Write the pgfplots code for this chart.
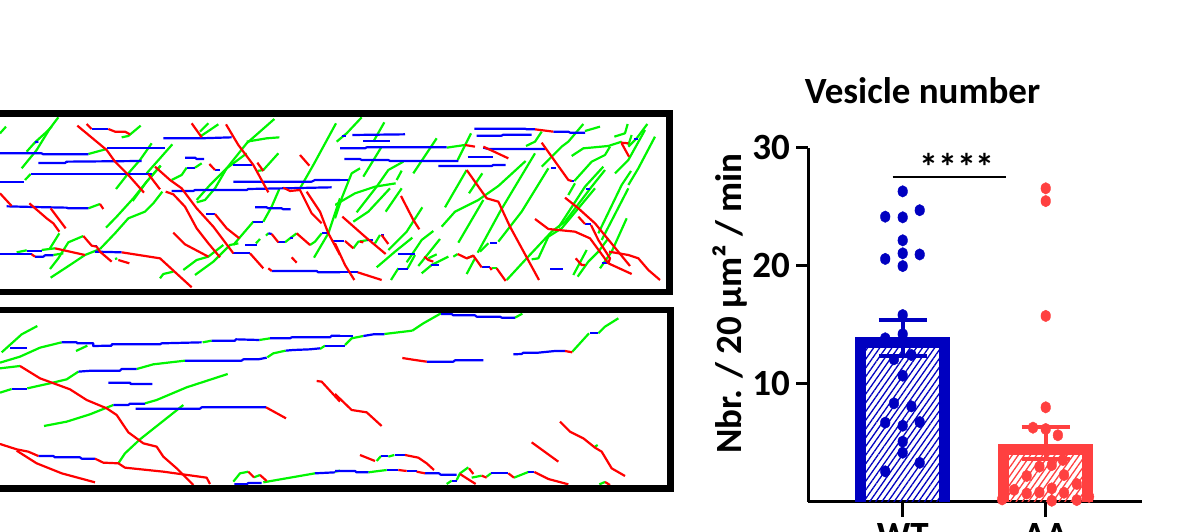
\documentclass[border=0pt]{standalone}
\usepackage{fontspec}
\setmainfont{Carlito}
\usepackage{pgfplots}
\pgfplotsset{compat=1.18}
\usetikzlibrary{patterns.meta}
\definecolor{tg}{RGB}{0,245,0}
\definecolor{tr}{RGB}{255,0,0}
\definecolor{tb}{RGB}{0,0,255}
\definecolor{wt}{RGB}{0,0,192}
\definecolor{aa}{RGB}{255,64,64}
\pgfplotsset{
 G/.style={tg,line width=2.2pt,mark=none,line join=round},
 R/.style={tr,line width=2.2pt,mark=none,line join=round},
 B/.style={tb,line width=2.2pt,mark=none,line join=round},
 crop/.style={scale only axis,width=340pt,height=195pt,anchor=north west,hide axis,
  xmin=0,xmax=1020,ymin=0,ymax=585,y dir=reverse},
}
\newcommand{\bigfont}{\fontsize{37}{40}\selectfont\bfseries}
\begin{document}
\begin{tikzpicture}[x=1pt,y=1pt]
\path[use as bounding box,clip] (0,0) rectangle (1192,532);
% upper panel, left
\begin{axis}[crop,at={(0pt,427pt)}]
\addplot[G] coordinates {(0,85)(18,65)};
\addplot[G] coordinates {(65,190)(110,135)(150,70)(175,37)};
\addplot[G] coordinates {(80,140)(105,112)(135,85)(155,65)};
\addplot[G] coordinates {(265,147)(320,132)};
\addplot[G] coordinates {(348,252)(385,205)(420,165)(455,115)};
\addplot[G] coordinates {(365,97)(385,93)(422,62)};
\addplot[G] coordinates {(440,205)(480,160)(517,118)};
\addplot[G] coordinates {(398,288)(440,230)(482,182)};
\addplot[G] coordinates {(318,368)(350,335)(400,280)(440,230)(482,182)};
\addplot[G] coordinates {(300,432)(345,385)(385,340)(435,320)(460,295)(487,260)};
\addplot[G] coordinates {(150,492)(175,460)(205,412)(250,393)};
\addplot[G] coordinates {(150,430)(178,385)};
\addplot[G] coordinates {(152,518)(210,480)(255,450)(300,432)};
\addplot[G] coordinates {(50,442)(80,436)};
\addplot[G] coordinates {(125,435)(165,430)};
\addplot[G] coordinates {(160,450)(190,445)};
\addplot[G] coordinates {(75,225)(92,207)};
\addplot[G] coordinates {(265,310)(300,297)};
\addplot[G] coordinates {(515,225)(545,210)(560,188)};
\addplot[G] coordinates {(585,188)(605,175)};
\addplot[G] coordinates {(600,95)(655,58)};
\addplot[G] coordinates {(600,80)(625,55)};
\addplot[G] coordinates {(590,285)(630,240)(680,190)(740,115)(823,42)};
\addplot[G] coordinates {(590,292)(615,285)(645,250)(680,190)(740,145)};
\addplot[G] coordinates {(740,110)(800,100)(838,97)};
\addplot[G] coordinates {(772,198)(790,195)(835,145)};
\addplot[G] coordinates {(900,250)(940,180)(1008,55)};
\addplot[G] coordinates {(700,420)(730,385)(760,350)};
\addplot[G] coordinates {(790,350)(815,305)(838,252)};
\addplot[G] coordinates {(480,520)(490,507)(520,500)};
\addplot[G] coordinates {(550,495)(590,465)(625,455)(670,420)};
\addplot[G] coordinates {(585,510)(640,470)(690,420)(715,415)};
\addplot[G] coordinates {(768,415)(780,402)};
\addplot[G] coordinates {(798,392)(805,385)};
\addplot[G] coordinates {(855,412)(870,400)(890,385)};
\addplot[G] coordinates {(930,420)(945,410)(965,385)};
\addplot[G] coordinates {(942,458)(985,385)(1020,280)};
\addplot[G] coordinates {(345,462)(352,460)};
\addplot[B] coordinates {(0,145)(125,145)(130,148)(265,148)};
\addplot[B] coordinates {(322,130)(495,130)};
\addplot[B] coordinates {(115,174)(195,174)(200,170)(425,168)};
\addplot[B] coordinates {(92,207)(455,207)};
\addplot[B] coordinates {(0,230)(72,230)};
\addplot[B] coordinates {(490,100)(600,100)(695,97)};
\addplot[B] coordinates {(105,112)(115,110)};
\addplot[B] coordinates {(555,158)(585,158)(590,162)(612,162)};
\addplot[B] coordinates {(560,188)(585,188)};
\addplot[B] coordinates {(645,195)(660,195)};
\addplot[B] coordinates {(700,180)(755,180)};
\addplot[B] coordinates {(700,230)(935,230)(945,225)(1020,225)};
\addplot[B] coordinates {(515,258)(580,258)(585,255)(740,255)(745,252)(850,250)(995,247)};
\addplot[B] coordinates {(20,304)(100,306)(200,308)(205,310)(265,310)};
\addplot[B] coordinates {(765,307)(800,307)(805,310)(845,310)(850,313)(872,313)};
\addplot[B] coordinates {(618,327)(645,327)};
\addplot[B] coordinates {(760,352)(790,352)};
\addplot[B] coordinates {(0,448)(95,448)};
\addplot[B] coordinates {(105,455)(130,455)(135,451)(160,451)};
\addplot[B] coordinates {(80,437)(125,437)};
\addplot[B] coordinates {(275,422)(290,422)};
\addplot[B] coordinates {(285,440)(365,442)};
\addplot[B] coordinates {(735,420)(772,420)};
\addplot[B] coordinates {(700,445)(750,445)};
\addplot[B] coordinates {(815,498)(950,498)(955,502)(1020,502)};
\addplot[B] coordinates {(805,385)(815,387)};
\addplot[B] coordinates {(835,412)(855,412)};
\addplot[B] coordinates {(870,398)(880,398)};
\addplot[B] coordinates {(965,385)(985,385)};
\addplot[B] coordinates {(1000,408)(1020,408)};
\addplot[R] coordinates {(232,62)(320,135)(345,170)(385,210)(432,263)};
\addplot[R] coordinates {(260,57)(275,72)};
\addplot[R] coordinates {(325,72)(345,80)(375,80)(390,88)};
\addplot[B] coordinates {(275,72)(325,72)};
\addplot[R] coordinates {(0,265)(35,303)};
\addplot[R] coordinates {(88,295)(140,340)(160,355)(178,380)};
\addplot[R] coordinates {(152,310)(197,370)};
\addplot[R] coordinates {(250,393)(275,422)(290,425)(300,440)(335,470)};
\addplot[R] coordinates {(355,465)(388,475)};
\addplot[R] coordinates {(165,430)(255,450)};
\addplot[R] coordinates {(95,448)(105,455)};
\addplot[R] coordinates {(365,442)(480,460)(575,547)};
\addplot[R] coordinates {(465,185)(510,225)(545,250)(590,310)(640,365)(700,445)};
\addplot[R] coordinates {(497,260)(520,268)(555,305)(590,370)(625,415)(660,457)};
\addplot[R] coordinates {(445,207)(480,253)};
\addplot[R] coordinates {(575,55)(605,97)};
\addplot[R] coordinates {(678,58)(715,120)(760,180)(805,262)};
\addplot[R] coordinates {(628,177)(645,195)};
\addplot[R] coordinates {(645,327)(680,370)(718,400)};
\addplot[R] coordinates {(520,383)(555,418)(625,455)};
\addplot[R] coordinates {(750,445)(790,490)};
\addplot[R] coordinates {(805,490)(815,498)};
\addplot[R] coordinates {(772,173)(790,198)};
\addplot[R] coordinates {(900,150)(928,182)};
\addplot[R] coordinates {(815,387)(835,412)};
\addplot[R] coordinates {(890,385)(930,420)};
\addplot[R] coordinates {(875,457)(890,473)};
\addplot[R] coordinates {(850,248)(870,258)(900,255)(935,325)(965,355)};
\addplot[R] coordinates {(920,260)(960,320)(985,385)(1020,450)};
\addplot[R] coordinates {(300,297)(310,312)};
\end{axis}
% upper panel, right
\begin{axis}[crop,at={(335pt,427pt)}]
\addplot[G] coordinates {(5,110)(35,85)(80,37)};
\addplot[G] coordinates {(115,110)(148,52)};
\addplot[G] coordinates {(85,215)(140,125)};
\addplot[G] coordinates {(0,340)(20,280)(50,205)(75,190)};
\addplot[G] coordinates {(55,350)(100,320)(165,250)};
\addplot[G] coordinates {(65,322)(125,245)(160,195)(205,170)};
\addplot[G] coordinates {(0,300)(60,265)(120,245)(182,235)};
\addplot[G] coordinates {(185,225)(200,197)};
\addplot[G] coordinates {(152,320)(200,250)};
\addplot[G] coordinates {(235,205)(305,100)};
\addplot[G] coordinates {(335,128)(390,120)};
\addplot[G] coordinates {(368,165)(408,85)};
\addplot[G] coordinates {(330,307)(395,195)};
\addplot[G] coordinates {(402,265)(442,205)};
\addplot[G] coordinates {(370,413)(445,285)};
\addplot[G] coordinates {(320,365)(360,320)(430,285)(490,243)(572,168)};
\addplot[G] coordinates {(428,443)(495,320)(600,145)};
\addplot[G] coordinates {(435,440)(460,415)};
\addplot[G] coordinates {(490,410)(560,320)(640,190)};
\addplot[G] coordinates {(515,525)(575,460)(650,380)(690,350)};
\addplot[G] coordinates {(590,463)(610,460)(640,395)(680,370)(780,250)};
\addplot[G] coordinates {(620,185)(680,125)(700,110)(745,57)};
\addplot[G] coordinates {(573,123)(600,110)(620,80)};
\addplot[G] coordinates {(710,153)(745,130)(820,123)(860,110)};
\addplot[G] coordinates {(750,78)(795,65)};
\addplot[G] coordinates {(700,270)(720,235)};
\addplot[G] coordinates {(718,228)(770,170)(810,150)(825,125)};
\addplot[G] coordinates {(838,95)(870,85)(878,57)};
\addplot[G] coordinates {(880,125)(905,100)(937,57)};
\addplot[G] coordinates {(880,120)(890,90)};
\addplot[G] coordinates {(840,205)(880,165)(930,75)};
\addplot[G] coordinates {(880,240)(910,190)(960,95)};
\addplot[G] coordinates {(790,385)(860,240)(888,198)};
\addplot[G] coordinates {(800,405)(880,250)};
\addplot[G] coordinates {(670,368)(750,245)(805,185)};
\addplot[G] coordinates {(690,350)(770,245)(810,195)};
\addplot[G] coordinates {(795,490)(830,440)(875,340)};
\addplot[G] coordinates {(715,510)(755,435)};
\addplot[G] coordinates {(728,515)(760,470)(790,440)(820,400)};
\addplot[G] coordinates {(125,487)(180,440)(232,398)};
\addplot[G] coordinates {(160,435)(215,380)(262,307)};
\addplot[G] coordinates {(215,472)(240,435)(260,405)(295,378)};
\addplot[G] coordinates {(250,483)(315,402)};
\addplot[G] coordinates {(260,505)(290,480)(340,455)};
\addplot[G] coordinates {(280,460)(305,448)};
\addplot[G] coordinates {(168,525)(190,490)};
\addplot[G] coordinates {(218,490)(240,450)};
\addplot[G] coordinates {(55,430)(70,410)(100,405)};
\addplot[G] coordinates {(120,415)(135,390)};
\addplot[G] coordinates {(355,455)(368,447)};
\addplot[G] coordinates {(395,460)(415,452)};
\addplot[G] coordinates {(395,507)(420,460)};
\addplot[G] coordinates {(470,490)(485,490)};
\addplot[B] coordinates {(0,225)(40,225)};
\addplot[B] coordinates {(20,92)(32,92)};
\addplot[B] coordinates {(52,90)(210,88)};
\addplot[B] coordinates {(85,108)(165,108)};
\addplot[B] coordinates {(15,130)(90,130)(95,127)(335,127)};
\addplot[B] coordinates {(28,162)(75,162)(80,165)(160,165)(165,168)(370,168)};
\addplot[B] coordinates {(310,183)(470,183)(475,180)(512,180)};
\addplot[B] coordinates {(418,71)(570,71)(575,73)(600,73)};
\addplot[B] coordinates {(425,92)(500,92)(505,89)(590,89)};
\addplot[B] coordinates {(655,80)(700,80)(705,83)(750,83)};
\addplot[B] coordinates {(445,128)(460,132)(630,132)};
\addplot[B] coordinates {(398,157)(475,157)};
\addplot[B] coordinates {(648,188)(662,188)};
\addplot[B] coordinates {(705,228)(718,228)};
\addplot[B] coordinates {(752,252)(765,252)};
\addplot[B] coordinates {(750,357)(768,357)};
\addplot[B] coordinates {(898,103)(910,103)};
\addplot[B] coordinates {(0,408)(28,408)};
\addplot[B] coordinates {(95,405)(115,405)};
\addplot[B] coordinates {(138,390)(148,390)};
\addplot[B] coordinates {(465,415)(485,415)};
\addplot[B] coordinates {(188,448)(240,448)};
\addplot[B] coordinates {(190,492)(218,492)};
\addplot[B] coordinates {(288,480)(312,480)};
\addplot[B] coordinates {(440,487)(465,487)};
\addplot[B] coordinates {(645,492)(683,492)};
\addplot[B] coordinates {(0,500)(68,500)};
\addplot[B] coordinates {(800,475)(818,475)};
\addplot[R] coordinates {(0,415)(30,480)(58,525)};
\addplot[R] coordinates {(68,502)(140,525)};
\addplot[R] coordinates {(22,335)(90,395)(152,447)};
\addplot[R] coordinates {(30,408)(55,430)};
\addplot[R] coordinates {(75,410)(85,412)};
\addplot[R] coordinates {(140,390)(160,417)};
\addplot[R] coordinates {(198,273)(235,345)(253,373)};
\addplot[R] coordinates {(268,455)(280,465)(295,470)};
\addplot[R] coordinates {(368,447)(395,460)(415,452)(440,487)};
\addplot[R] coordinates {(465,487)(470,495)};
\addplot[R] coordinates {(485,490)(512,528)};
\addplot[R] coordinates {(390,120)(420,125)};
\addplot[R] coordinates {(445,125)(520,160)};
\addplot[R] coordinates {(600,73)(655,80)};
\addplot[R] coordinates {(395,195)(455,280)(490,290)(525,365)(612,525)};
\addplot[R] coordinates {(620,113)(650,155)(700,225)(710,228)};
\addplot[R] coordinates {(690,278)(730,310)(780,355)(885,483)};
\addplot[R] coordinates {(600,342)(640,372)(720,380)(765,400)(820,475)};
\addplot[R] coordinates {(730,335)(750,357)};
\addplot[R] coordinates {(768,360)(790,405)(825,460)(820,475)};
\addplot[R] coordinates {(820,475)(890,507)};
\addplot[R] coordinates {(822,440)(880,450)(910,460)(940,495)(975,525)};
\addplot[R] coordinates {(722,460)(740,480)(750,480)};
\addplot[R] coordinates {(858,113)(880,115)};
\addplot[R] coordinates {(860,115)(882,155)};
\end{axis}
% lower panel, left
\begin{axis}[crop,at={(0pt,232pt)}]
\addplot[G] coordinates {(5,157)(65,103)(112,78)};
\addplot[G] coordinates {(228,153)(262,137)};
\addplot[G] coordinates {(0,188)(60,170)(120,143)(185,127)};
\addplot[G] coordinates {(0,205)(60,198)};
\addplot[G] coordinates {(0,278)(35,267)};
\addplot[G] coordinates {(82,265)(150,250)(200,238)(235,215)};
\addplot[G] coordinates {(410,207)(460,193)(555,182)};
\addplot[G] coordinates {(132,378)(200,365)(270,343)(340,315)};
\addplot[G] coordinates {(435,310)(470,300)(560,262)(683,222)};
\addplot[G] coordinates {(355,490)(375,460)(420,418)(550,315)};
\addplot[G] coordinates {(608,127)(635,122)};
\addplot[G] coordinates {(778,120)(810,115)};
\addplot[G] coordinates {(802,172)(820,160)(857,152)};
\addplot[G] coordinates {(960,147)(975,137)};
\addplot[G] coordinates {(700,545)(720,520)(745,515)};
\addplot[G] coordinates {(762,532)(780,525)};
\addplot[G] coordinates {(790,547)(945,520)};
\addplot[G] coordinates {(1005,515)(1020,512)};
\addplot[B] coordinates {(30,145)(80,145)};
\addplot[B] coordinates {(185,127)(230,127)(232,130)(280,130)(280,138)(335,137)(335,133)(480,133)(485,130)(605,127)};
\addplot[B] coordinates {(635,122)(705,122)(708,118)(778,120)};
\addplot[B] coordinates {(810,115)(870,115)(875,112)(990,112)(995,107)(1020,107)};
\addplot[B] coordinates {(235,215)(275,212)(360,212)(365,207)(410,207)};
\addplot[B] coordinates {(555,182)(725,182)(730,178)(775,178)(800,173)};
\addplot[B] coordinates {(857,152)(880,150)(930,148)(960,145)};
\addplot[B] coordinates {(975,137)(1020,137)};
\addplot[B] coordinates {(35,267)(82,267)};
\addplot[B] coordinates {(325,248)(390,248)(392,252)(457,252)};
\addplot[B] coordinates {(340,315)(385,315)(390,311)(435,311)};
\addplot[B] coordinates {(407,326)(600,326)(605,322)(798,322)};
\addplot[B] coordinates {(115,468)(160,468)(165,472)(240,472)(245,476)(285,476)};
\addplot[B] coordinates {(703,553)(740,553)(745,549)(785,549)};
\addplot[B] coordinates {(945,520)(1005,517)};
\addplot[R] coordinates {(60,198)(120,235)(210,268)(260,300)(320,325)(350,345)(385,397)(430,430)(470,440)(490,470)(530,505)(580,555)};
\addplot[R] coordinates {(0,432)(50,448)(85,455)(115,468)};
\addplot[R] coordinates {(50,452)(110,490)(185,520)(285,547)};
\addplot[R] coordinates {(285,476)(310,488)(355,490)(375,503)(490,515)(620,533)(630,552)};
\addplot[R] coordinates {(798,322)(858,355)};
\addplot[R] coordinates {(745,515)(762,532)};
\addplot[R] coordinates {(780,525)(800,543)};
\addplot[R] coordinates {(950,243)(965,245)(1020,305)};
\end{axis}
% lower panel, right
\begin{axis}[crop,at={(335pt,232pt)}]
\addplot[G] coordinates {(232,92)(265,70)(318,40)};
\addplot[G] coordinates {(148,102)(232,92)};
\addplot[G] coordinates {(30,135)(50,115)(85,108)};
\addplot[G] coordinates {(540,53)(562,41)};
\addplot[G] coordinates {(712,155)(762,100)};
\addplot[G] coordinates {(790,100)(810,80)(850,55)};
\addplot[G] coordinates {(100,517)(155,510)};
\addplot[G] coordinates {(125,483)(138,468)};
\addplot[G] coordinates {(160,470)(178,465)};
\addplot[G] coordinates {(335,552)(350,542)};
\addplot[G] coordinates {(365,540)(375,520)(400,502)};
\addplot[G] coordinates {(410,533)(440,527)};
\addplot[G] coordinates {(455,530)(468,520)};
\addplot[G] coordinates {(537,533)(580,516)};
\addplot[G] coordinates {(793,553)(810,546)};
\addplot[G] coordinates {(780,440)(788,435)};
\addplot[B] coordinates {(0,108)(53,108)};
\addplot[B] coordinates {(0,138)(30,138)};
\addplot[B] coordinates {(85,108)(115,103)(148,103)};
\addplot[B] coordinates {(318,42)(350,42)(355,46)(420,46)(425,50)(495,50)(500,53)(540,53)};
\addplot[B] coordinates {(275,185)(355,185)(360,181)(445,181)};
\addplot[B] coordinates {(535,163)(560,162)(565,158)(610,158)(660,153)(690,153)};
\addplot[B] coordinates {(765,100)(790,100)};
\addplot[B] coordinates {(0,513)(60,513)(65,517)(100,517)};
\addplot[B] coordinates {(138,468)(160,468)};
\addplot[B] coordinates {(180,465)(210,465)};
\addplot[B] coordinates {(155,510)(190,510)};
\addplot[B] coordinates {(215,513)(245,513)};
\addplot[B] coordinates {(270,520)(312,520)(317,524)(365,524)};
\addplot[B] coordinates {(350,542)(365,542)};
\addplot[B] coordinates {(468,520)(520,520)};
\addplot[B] coordinates {(580,516)(598,516)};
\addplot[R] coordinates {(202,174)(240,180)(275,185)};
\addplot[R] coordinates {(690,153)(712,157)};
\addplot[R] coordinates {(0,282)(50,330)(95,337)(140,378)};
\addplot[R] coordinates {(75,465)(120,483)};
\addplot[R] coordinates {(210,465)(250,473)(275,490)(297,510)};
\addplot[R] coordinates {(190,510)(215,513)};
\addplot[R] coordinates {(245,515)(270,520)};
\addplot[R] coordinates {(375,522)(395,535)(422,552)};
\addplot[R] coordinates {(402,505)(415,522)};
\addplot[R] coordinates {(440,527)(455,533)};
\addplot[R] coordinates {(520,520)(537,533)};
\addplot[R] coordinates {(598,516)(640,537)(700,553)};
\addplot[R] coordinates {(810,546)(825,555)};
\addplot[R] coordinates {(675,365)(705,395)(745,415)(780,443)(800,455)(830,505)(870,528)};
\addplot[R] coordinates {(590,427)(670,485)};
\end{axis}
% panel frames, in image pixels
\begin{axis}[scale only axis,width=1192pt,height=532pt,at={(0pt,0pt)},anchor=south west,hide axis,
 xmin=0,xmax=1192,ymin=0,ymax=532,y dir=reverse]
\addplot[black,line width=6.5pt,mark=none,line join=miter] coordinates {(-10,113.5)(669.5,113.5)(669.5,292)(-10,292)};
\addplot[black,line width=6.5pt,mark=none,line join=miter] coordinates {(-10,310)(670.5,310)(670.5,488.5)(-10,488.5)};
\end{axis}
% bar chart
\begin{axis}[scale only axis,width=334pt,height=354pt,at={(808pt,30.3pt)},anchor=south west,
 xmin=-0.662,xmax=1.673,ymin=0,ymax=30,clip=false,
 axis x line=bottom,axis y line=left,
 axis line style={line width=3pt,-},
 tick style={line width=3pt,black},
 ytick={10,20,30},xtick={0,1},xticklabels={WT,AA},
 tick align=outside,
 major tick length=12pt,
 x tick style={/pgfplots/major tick length=15pt},
 /pgf/number format/assume math mode=true,
 yticklabel style={font=\bigfont,inner sep=0pt,xshift=-6pt},
 xticklabel style={font=\bigfont,inner sep=0pt,yshift=-10pt},
 ylabel={Nbr. / 20 µm² / min},
 ylabel style={font=\bigfont,at={(axis description cs:0,0.5)},xshift=21pt,yshift=60pt,inner sep=0pt,anchor=south},
 title={Vesicle number},
 title style={font=\bigfont,at={(axis description cs:0.343,1)},anchor=base,yshift=38pt,inner sep=0pt},
]
% bars
\addplot[wt,line width=11pt,mark=none,line join=miter,
  pattern={Lines[angle=55,distance=5pt,line width=1.3pt]},pattern color=wt]
  coordinates {(-0.293,0)(-0.293,13.46)(0.293,13.46)(0.293,0)};
\addplot[aa,line width=11pt,mark=none,line join=miter,
  pattern={Lines[angle=55,distance=5pt,line width=1.3pt]},pattern color=aa]
  coordinates {(0.707,0)(0.707,4.42)(1.293,4.42)(1.293,0)};
% points WT
\addplot[only marks,mark=*,mark size=4.8pt,wt,mark options={yscale=1.2,draw=wt,fill=wt}] coordinates {
(0,26.3)(0.119,24.7)(-0.122,24.15)(0,24.1)(0,22.15)(0,21.05)(0.119,20.95)(-0.122,20.57)(0,19.97)
(0,15.82)(0,14.2)(-0.122,13.85)(-0.061,12.07)(0.061,12.43)(0,10.68)(-0.061,8.34)(0.061,8.08)
(-0.122,6.7)(0.119,6.75)(0,6.44)(0,5.09)(0,4.15)(0.119,3.3)(-0.122,2.57)};
% points AA
\addplot[only marks,mark=*,mark size=4.8pt,aa,mark options={yscale=1.2,draw=aa,fill=aa}] coordinates {
(1,26.56)(1,25.48)(1,15.74)(1,8.0)(0.911,6.27)(1,6.16)(1.085,5.63)(0.956,2.97)(1.042,3.1)(1.12,3.53)
(0.867,2.18)(1.128,2.26)(1.217,1.5)(0.779,1.0)(0.867,0.7)(0.956,0.8)(1.042,1.13)(1.128,0.76)
(0.695,0.2)(1.042,0.08)(1.217,0.14)(1.303,0.42)};
% error bars
\addplot[draw=none,mark=none,forget plot,
  error bars/.cd,y dir=both,y explicit,
  error bar style={wt,line width=4pt},
  error mark options={rotate=90,wt,mark size=24pt,line width=4pt}]
  coordinates {(0,13.9) +- (0,1.52)};
\addplot[draw=none,mark=none,forget plot,
  error bars/.cd,y dir=both,y explicit,
  error bar style={aa,line width=4pt},
  error mark options={rotate=90,aa,mark size=24pt,line width=4pt}]
  coordinates {(1,4.96) +- (0,1.37)};
% significance
\addplot[black,line width=2pt,mark=none] coordinates {(-0.07,27.5)(0.72,27.5)};
\node[font=\fontsize{38}{40}\selectfont\bfseries,anchor=base,inner sep=0pt] at (axis cs:0.38,27.2) {****};
\end{axis}
\end{tikzpicture}
\end{document}
